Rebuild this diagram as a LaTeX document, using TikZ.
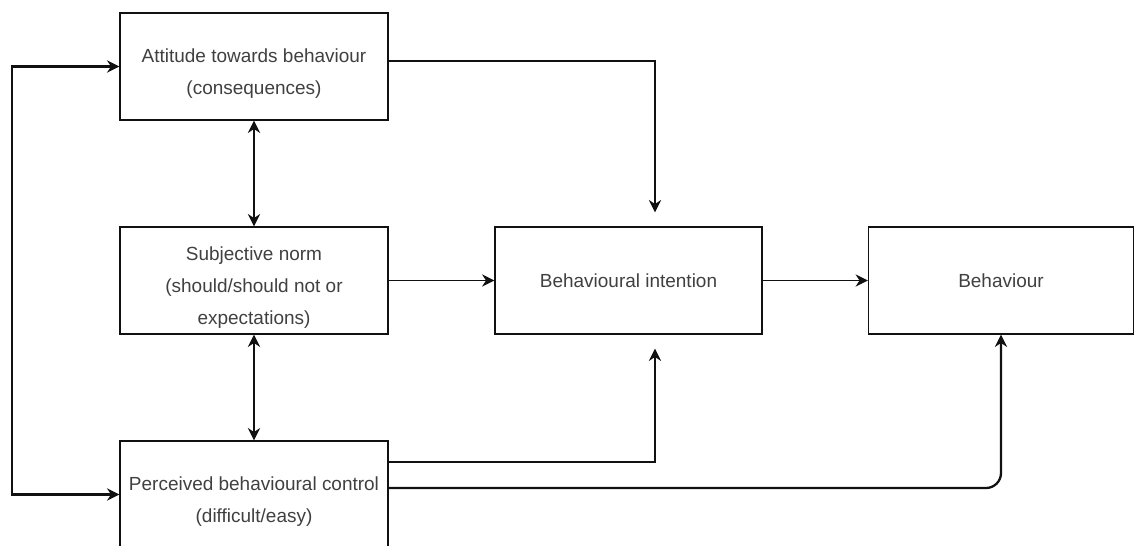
\documentclass[tikz,border=0pt]{standalone}
\usepackage{fontspec}
\setmainfont{Liberation Sans}
\usetikzlibrary{arrows.meta,calc,positioning}
\definecolor{ink}{HTML}{111111}
\definecolor{label}{HTML}{404040}
\newcommand\toppad{\rule{0pt}{16pt}}
\tikzset{>={Stealth[length=7pt,width=7pt]},
  every node/.style={font=\fontsize{10.8}{18.2}\selectfont,text=label},
  block/.style={draw=ink,line width=.75pt,minimum width=5.36cm,minimum height=2.14cm,
    align=center,inner sep=0pt},
  link/.style={->,draw=ink,line width=1.2pt}}

\begin{document}
\begin{tikzpicture}
\clip (0,0) rectangle (22.72,10.9);
\node[block] (att) at (5.08,9.57) {\toppad Attitude towards behaviour\\(consequences)};
\node[block] (sub) at (5.08,5.29) {\toppad Subjective norm\\(should/should not or\\expectations)};
\node[block] (per) at (5.08,1.01) {\toppad Perceived behavioural control\\(difficult/easy)};
\node[block,minimum width=5.34cm] (int) at (12.57,5.29) {Behavioural intention};
\node[block,minimum width=5.3cm] (beh) at (20.02,5.29) {Behaviour};
\coordinate (intN) at ($(int.north)+(.53,.28)$);
\coordinate (intS) at ($(int.south)+(.53,-.28)$);
% feedback loop on the left
\draw[link,<->] (att.west) -- ++(-2.14,0) |- (per.west);
\draw[link,<->,line width=1pt] (att.south) -- (sub.north);
\draw[link,<->,line width=1pt] (sub.south) -- (per.north);
\draw[link,line width=1.4pt] ($(att.east)+(0,.11)$) -| (intN);
\draw[link,line width=.9pt] (sub.east) -- (int.west);
\draw[link,line width=.9pt] (int.east) -- (beh.west);
\draw[link,line width=1.3pt] ($(per.east)+(0,.65)$) -| (intS);
\draw[link,line width=1.3pt,rounded corners=.3cm] ($(per.east)+(0,.13)$) -| (beh.south);
\end{tikzpicture}
\end{document}
